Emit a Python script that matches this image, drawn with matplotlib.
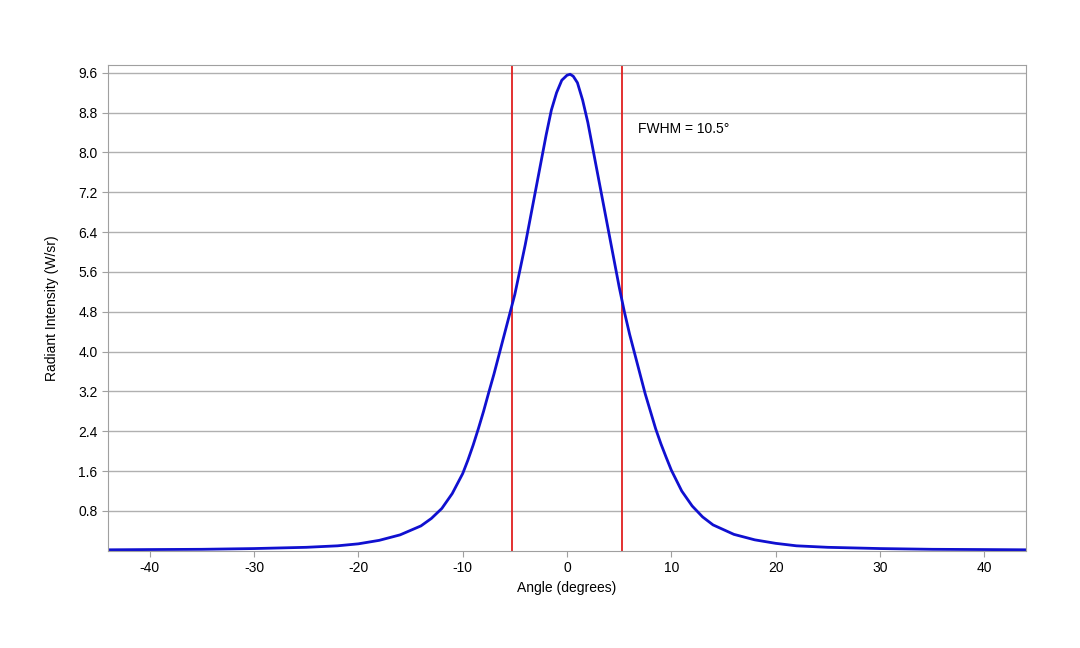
import matplotlib
matplotlib.use("Agg")
import matplotlib.pyplot as plt

plt.rcParams["font.family"] = ["Liberation Sans", "DejaVu Sans"]
plt.rcParams["axes.unicode_minus"] = False

angle = [-44, -40, -35, -30, -25, -22, -20, -18, -16, -14, -13, -12, -11, -10,
         -9.5, -9, -8.5, -8, -7.5, -7, -6.5, -6, -5.5, -5, -4.5, -4, -3.5, -3,
         -2.5, -2, -1.5, -1, -0.5, 0, 0.3, 0.6, 1, 1.5, 2, 2.5, 3, 3.5, 4, 4.5,
         5, 5.5, 6, 6.5, 7, 7.5, 8, 8.5, 9, 9.5, 10, 11, 12, 13, 14, 16, 18, 20,
         22, 25, 30, 35, 40, 44]
intensity = [0.02, 0.025, 0.03, 0.045, 0.07, 0.1, 0.14, 0.21, 0.32, 0.5, 0.65,
             0.85, 1.15, 1.55, 1.82, 2.12, 2.45, 2.8, 3.18, 3.55, 3.95, 4.35,
             4.75, 5.15, 5.65, 6.15, 6.7, 7.25, 7.8, 8.35, 8.85, 9.2, 9.45, 9.55,
             9.57, 9.53, 9.4, 9.05, 8.6, 8.05, 7.5, 6.95, 6.4, 5.85, 5.3, 4.8,
             4.35, 3.95, 3.55, 3.15, 2.8, 2.45, 2.15, 1.88, 1.62, 1.2, 0.9, 0.68,
             0.52, 0.33, 0.22, 0.15, 0.1, 0.07, 0.045, 0.03, 0.025, 0.02]
fwhm_lines = [-5.25, 5.25]
yticks = [0.8, 1.6, 2.4, 3.2, 4.0, 4.8, 5.6, 6.4, 7.2, 8.0, 8.8, 9.6]
xticks = [-40, -30, -20, -10, 0, 10, 20, 30, 40]

fig = plt.figure(figsize=(10.8, 6.48), dpi=100)
ax = fig.add_axes([0.1, 0.15, 0.85, 0.75])
ax.set_xlim(-44, 44)
ax.set_ylim(0, 9.76)
ax.set_yticks(yticks)
ax.set_yticklabels([f"{v:.1f}" for v in yticks])
ax.set_xticks(xticks)
ax.yaxis.grid(True, color="#b0b0b0", linewidth=1)
ax.set_axisbelow(True)
for s in ax.spines.values():
    s.set_color("#a0a0a0")
ax.tick_params(colors="#a0a0a0", labelcolor="black", labelsize=10, length=4)

for x in fwhm_lines:
    ax.axvline(x, color="#e02020", linewidth=1.3)
ax.plot(angle, intensity, color="#1010d0", linewidth=2)
ax.text(6.8, 8.4, "FWHM = 10.5°", fontsize=10)

ax.set_xlabel("Angle (degrees)", fontsize=10)
ax.set_ylabel("Radiant Intensity (W/sr)", fontsize=10, labelpad=14)

fig.savefig("out.png", dpi=100)
